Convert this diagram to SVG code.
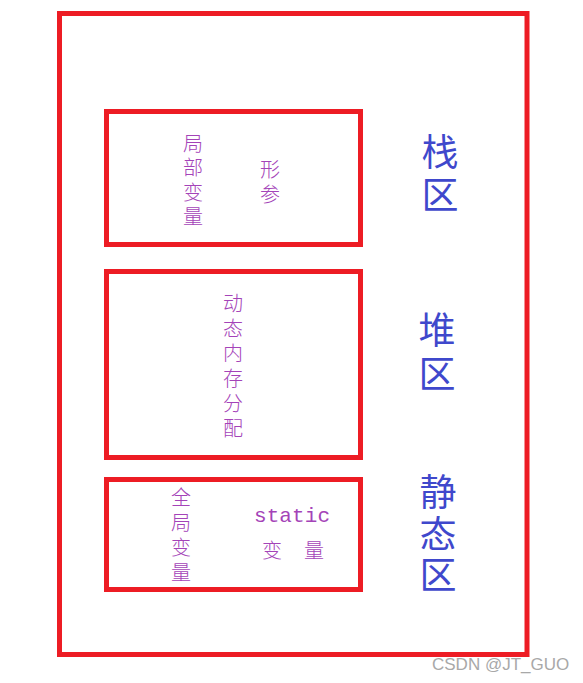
<svg xmlns="http://www.w3.org/2000/svg" width="583" height="683" viewBox="0 0 583 683">
<style>
.box{fill:none;stroke:#ed1c24;stroke-width:5}
.p{font-family:"Noto Sans CJK SC","Noto Sans",sans-serif;font-weight:300;font-size:20px;fill:#a443b8}
.b{font-family:"Noto Sans CJK SC","Noto Sans",sans-serif;font-size:37px;fill:#3f48cc}
.v{writing-mode:vertical-rl}
.m{font-family:"Liberation Mono",monospace;font-size:21px;fill:#a443b8}
.w{font-family:"Liberation Sans",sans-serif;font-size:17px;fill:#a8a8a8}
</style>
<rect width="583" height="683" fill="#fff"/>
<g id="outer"><rect class="box" x="59.5" y="13.5" width="467.5" height="641"/></g>
<g id="stack">
<rect class="box" x="106.5" y="111.5" width="254" height="133"/>
<text class="p v" x="193" y="133" letter-spacing="4.5">局部变量</text>
<text class="p v" x="270" y="159" letter-spacing="5">形参</text>
</g>
<g id="stack-label">
<text class="b v" x="440" y="133.5" letter-spacing="6">栈区</text>
</g>
<g id="heap">
<rect class="box" x="106.5" y="271.5" width="254" height="186"/>
<text class="p v" x="233" y="293" letter-spacing="5">动态内存分配</text>
</g>
<g id="heap-label">
<text class="b v" x="437" y="311.5" letter-spacing="7">堆区</text>
</g>
<g id="static">
<rect class="box" x="106.5" y="479.5" width="254" height="110"/>
<text class="p v" x="181" y="487" letter-spacing="5">全局变量</text>
<text class="m" x="254" y="522" textLength="76">static</text>
<text class="p" x="262" y="549" dominant-baseline="central" letter-spacing="22">变量</text>
</g>
<g id="static-label">
<text class="b v" x="438" y="473.5" letter-spacing="4.5">静态区</text>
</g>
<g id="connectors"></g>
<text class="w" x="432" y="670">CSDN @JT_GUO</text>
</svg>
